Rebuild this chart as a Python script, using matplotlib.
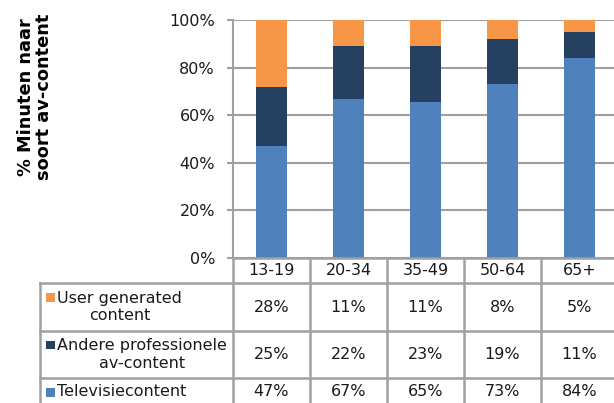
import matplotlib.pyplot as plt
import matplotlib.transforms as mtransforms

# leeftijdsgroepen en aandeel minuten per soort av-content (%)
groups = ["13-19", "20-34", "35-49", "50-64", "65+"]
tv = [47, 67, 65, 73, 84]
other_pro = [25, 22, 23, 19, 11]
ugc = [28, 11, 11, 8, 5]

series_names = ["User generated\ncontent", "Andere professionele\nav-content", "Televisiecontent"]
series_values = [ugc, other_pro, tv]
series_colors = ["#F79646", "#254061", "#4F81BD"]

W, H = 614, 403
GRID = "#A0A0A0"
FS = 11.5
plt.rcParams["font.family"] = ["DejaVu Sans"]

fig = plt.figure(figsize=(W / 100, H / 100), dpi=100)

# plotgebied in pixels: x 233..618, y 20..258
ax = fig.add_axes([233 / W, (H - 258) / H, 385 / W, 238 / H])

# 100% gestapeld: elke kolom schalen naar zijn eigen totaal
totals = [a + b + c for a, b, c in zip(tv, other_pro, ugc)]
x = list(range(len(groups)))
bottom = [0] * len(groups)
for vals, color in zip([tv, other_pro, ugc], [series_colors[2], series_colors[1], series_colors[0]]):
    shares = [v / t * 100 for v, t in zip(vals, totals)]
    ax.bar(x, shares, width=0.39, bottom=bottom, color=color, edgecolor="none", zorder=3)
    bottom = [b + s for b, s in zip(bottom, shares)]

ax.set_xlim(-0.5, len(groups) - 0.5)
ax.set_ylim(0, 100)
ax.set_yticks(range(0, 101, 20))
ax.set_yticklabels([f"{v}%" for v in range(0, 101, 20)], fontsize=FS, color="#1a1a1a")
ax.set_xticks([])
ax.tick_params(axis="y", length=4, width=1.5, color=GRID, pad=9)
ax.grid(axis="y", color=GRID, linewidth=1.5, zorder=0)
for side in ["top", "right", "bottom"]:
    ax.spines[side].set_visible(False)
ax.spines["left"].set_color(GRID)
ax.spines["left"].set_linewidth(1.5)

fig.text(35 / W, 1 - 97 / H, "% Minuten naar\nsoort av-content", rotation=90,
         ha="center", va="center", fontsize=12.8, fontweight="bold",
         multialignment="center", linespacing=1.05)

# gegevenstabel onder de grafiek: x in data van ax, y in figuurpixels (van boven)
to_px = mtransforms.Affine2D().scale(1, -1).translate(0, H)
trans = mtransforms.blended_transform_factory(ax.transData, to_px)
pix = to_px

row_edges = [283, 331, 378, 407]
header_top = 258
lkw = dict(color=GRID, linewidth=1.8, clip_on=False)

# horizontale lijnen
fig.add_artist(plt.Line2D([233, 618], [header_top, header_top], transform=pix, **lkw))
for yy in row_edges:
    fig.add_artist(plt.Line2D([40, 618], [yy, yy], transform=pix, **lkw))
# verticale lijnen
fig.add_artist(plt.Line2D([40, 40], [row_edges[0], row_edges[-1]], transform=pix, **lkw))
for i in range(len(groups) + 1):
    fig.add_artist(plt.Line2D([i - 0.5, i - 0.5], [header_top, row_edges[-1]], transform=trans, **lkw))

# kolomkoppen
for i, g in enumerate(groups):
    fig.text(i, (header_top + row_edges[0]) / 2, g, transform=trans,
             ha="center", va="center", fontsize=FS, color="#1a1a1a")

# rijen
row_tops = [row_edges[0], row_edges[1], row_edges[2]]
row_bots = [row_edges[1], row_edges[2], 406]
for name, vals, color, top, bot in zip(series_names, series_values, series_colors, row_tops, row_bots):
    cy = (top + bot) / 2
    nlines = name.count("\n") + 1
    first_line_y = cy - (nlines - 1) * 10
    fig.add_artist(plt.Rectangle((46, first_line_y + 4.5), 8.5, -8.5, transform=pix,
                                 facecolor=color, edgecolor="none"))
    fig.text(57, cy, name, transform=pix, ha="left", va="center",
             multialignment="center", fontsize=FS, color="#1a1a1a", linespacing=1.25)
    for i, v in enumerate(vals):
        fig.text(i, cy, f"{v}%", transform=trans, ha="center", va="center",
                 fontsize=FS, color="#1a1a1a")

fig.savefig("out.png", dpi=100)
